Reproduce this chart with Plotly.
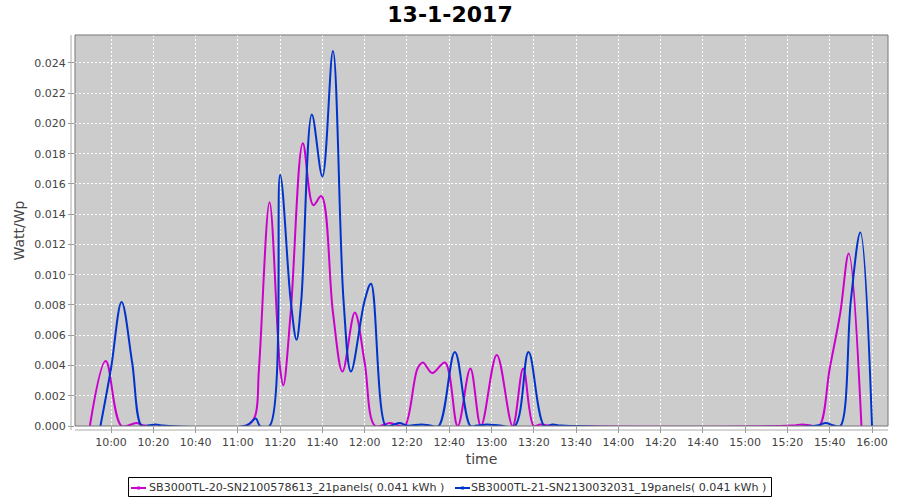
import plotly.graph_objects as go

DATE = "2017-01-13"

sb20_times = ["09:50:00", "09:57:30", "10:05:00", "10:12:00", "10:16:00", "11:04:00", "11:08:00",
              "11:10:00", "11:15:00", "11:20:00", "11:21:30", "11:25:00", "11:30:45", "11:35:40",
              "11:39:30", "11:45:00", "11:49:30", "11:55:20", "12:00:00", "12:05:00", "12:12:00",
              "12:16:00", "12:19:00", "12:25:00", "12:27:30", "12:32:00", "12:38:00", "12:44:00",
              "12:50:00", "12:55:00", "13:02:30", "13:10:00", "13:15:00", "13:20:00", "13:23:00",
              "13:27:00", "15:22:00", "15:27:00", "15:31:00", "15:35:00", "15:40:00", "15:45:00",
              "15:49:00", "15:55:00"]
sb20_values = [0.0, 0.0043, 0.0, 0.0002, 0.00003, 0.00003, 0.0006,
               0.0038, 0.0148, 0.0038, 0.0027, 0.0075, 0.0187, 0.0146,
               0.0152, 0.0075, 0.0036, 0.0075, 0.0042, 0.0, 0.0002,
               0.00003, 0.0, 0.0038, 0.0042, 0.0035, 0.0042, 0.0,
               0.0038, 0.0, 0.0047, 0.0, 0.0038, 0.0, 0.0001,
               0.00003, 0.00003, 0.0001, 0.00003, 0.0, 0.0038, 0.0075,
               0.0114, 0.0]

# SB3000TL-21 (blue)
sb21_times = ["09:55:00", "10:00:00", "10:05:00", "10:10:00", "10:14:30", "10:18:00", "10:21:00",
              "10:25:00", "11:04:00", "11:08:30", "11:10:30", "11:15:00", "11:20:00", "11:25:00",
              "11:27:45", "11:30:00", "11:35:00", "11:40:00", "11:45:00", "11:50:00", "11:53:30",
              "12:00:00", "12:03:00", "12:10:00", "12:13:00", "12:16:30", "12:20:00", "12:27:00",
              "12:31:00", "12:35:00", "12:42:40", "12:50:00", "12:53:00", "12:58:00", "13:04:00",
              "13:11:00", "13:17:30", "13:25:00", "13:29:00", "13:33:00", "15:34:00", "15:38:00",
              "15:42:00", "15:45:00", "15:50:00", "15:54:30", "16:00:00"]
sb21_values = [0.0, 0.0038, 0.0082, 0.0042, 0.0, 0.00005, 0.0001,
               0.00003, 0.00003, 0.0005, 0.0, 0.0, 0.0166, 0.0083,
               0.0057, 0.0083, 0.0206, 0.0165, 0.0248, 0.0083, 0.0036,
               0.0083, 0.0094, 0.0, 0.00005, 0.0002, 0.00003, 0.0001,
               0.00003, 0.0, 0.0049, 0.0, 0.00003, 0.0001, 0.00003,
               0.0, 0.0049, 0.0, 0.0001, 0.00003, 0.00003, 0.0002,
               0.00003, 0.0, 0.0083, 0.0128, 0.0]

series_names = ["SB3000TL-20-SN2100578613_21panels( 0.041 kWh )",
                "SB3000TL-21-SN2130032031_19panels( 0.041 kWh )"]
series_colors = ["#CC00CC", "#0033CC"]

y_ticks = [0.000, 0.002, 0.004, 0.006, 0.008, 0.010, 0.012, 0.014, 0.016, 0.018, 0.020, 0.022, 0.024]
x_tick_labels = ["10:00", "10:20", "10:40", "11:00", "11:20", "11:40", "12:00", "12:20", "12:40",
                 "13:00", "13:20", "13:40", "14:00", "14:20", "14:40", "15:00", "15:20", "15:40", "16:00"]

fig = go.Figure()
for name, ts, vals, col in zip(series_names, [sb20_times, sb21_times], [sb20_values, sb21_values], series_colors):
    fig.add_trace(go.Scatter(
        x=[f"{DATE} {t}" for t in ts], y=vals, name=name, mode="lines",
        line=dict(color=col, width=2, shape="spline", smoothing=1.0),
        showlegend=False,
    ))

font_family = "DejaVu Sans"
PL, PR, PT, PB = 75, 888, 35, 426  # plot area in pixels
PW, PH = PR - PL, PB - PT


def px(xp):
    return (xp - PL) / PW


def py(yp):
    return (PB - yp) / PH


fig.update_layout(
    width=900, height=500,
    margin=dict(l=PL, r=900 - PR, t=PT, b=500 - PB, autoexpand=False),
    paper_bgcolor="white",
    plot_bgcolor="#CCCCCC",
    title=dict(text="<b>13-1-2017</b>", x=0.5, xanchor="center", xref="container",
               y=0.972, yanchor="middle", yref="container",
               font=dict(family=font_family, size=22, color="black")),
    showlegend=False,
    font=dict(family=font_family),
)

fig.update_xaxes(
    type="date", automargin=False,
    range=[f"{DATE} 09:42:58", f"{DATE} 16:07:34"],
    tickvals=[f"{DATE} {t}:00" for t in x_tick_labels],
    ticktext=x_tick_labels,
    showgrid=True, gridcolor="white", gridwidth=1, griddash="2px,2px",
    zeroline=False, showline=False,
    ticks="outside", ticklen=6, tickcolor="#999999",
    tickfont=dict(family=font_family, size=11, color="#444444"),
    title=dict(text="time", font=dict(family=font_family, size=14, color="#444444"), standoff=5),
)
fig.update_yaxes(
    automargin=False,
    range=[0, 0.02585],
    tickvals=y_ticks,
    tickformat=".3f",
    showgrid=True, gridcolor="white", gridwidth=1, griddash="2px,2px",
    zeroline=False, showline=False,
    ticks="outside", ticklen=6, tickcolor="#999999",
    tickfont=dict(family=font_family, size=11, color="#444444"),
    title=dict(text="Watt/Wp", font=dict(family=font_family, size=14, color="#444444"), standoff=6),
)

# plot outline and offset axis lines
fig.add_shape(type="rect", xref="paper", yref="paper", x0=0, y0=0, x1=1, y1=1,
              line=dict(color="#777777", width=1), layer="above")
fig.add_shape(type="line", xref="paper", yref="paper", x0=px(71), x1=px(71), y0=py(430), y1=1,
              line=dict(color="#AAAAAA", width=1))
fig.add_shape(type="line", xref="paper", yref="paper", x0=0, x1=1, y0=py(430), y1=py(430),
              line=dict(color="#AAAAAA", width=1))

# legend box drawn like the reference (short line symbols)
fig.add_shape(type="rect", xref="paper", yref="paper", x0=px(128.5), x1=px(771.5), y0=py(496.5), y1=py(477.5),
              line=dict(color="black", width=1), fillcolor="white")
legend_items = [(131, 147), (455, 469)]
for (sx, tx), name, col in zip(legend_items, series_names, series_colors):
    fig.add_shape(type="line", xref="paper", yref="paper", x0=px(sx), x1=px(sx + 15), y0=py(488), y1=py(488),
                  line=dict(color=col, width=2))
    fig.add_shape(type="rect", xref="paper", yref="paper", x0=px(sx + 6), x1=px(sx + 9), y0=py(489.5), y1=py(486.5),
                  line=dict(color=col, width=0), fillcolor=col)
    fig.add_annotation(text=name, xref="paper", yref="paper", x=px(tx), y=py(487.5),
                       xanchor="left", yanchor="middle", showarrow=False,
                       font=dict(family=font_family, size=11.1, color="#333333"))

fig.write_html("out.html", config={"displayModeBar": False},
               post_script="document.body.style.margin='0';document.body.style.padding='0';")
